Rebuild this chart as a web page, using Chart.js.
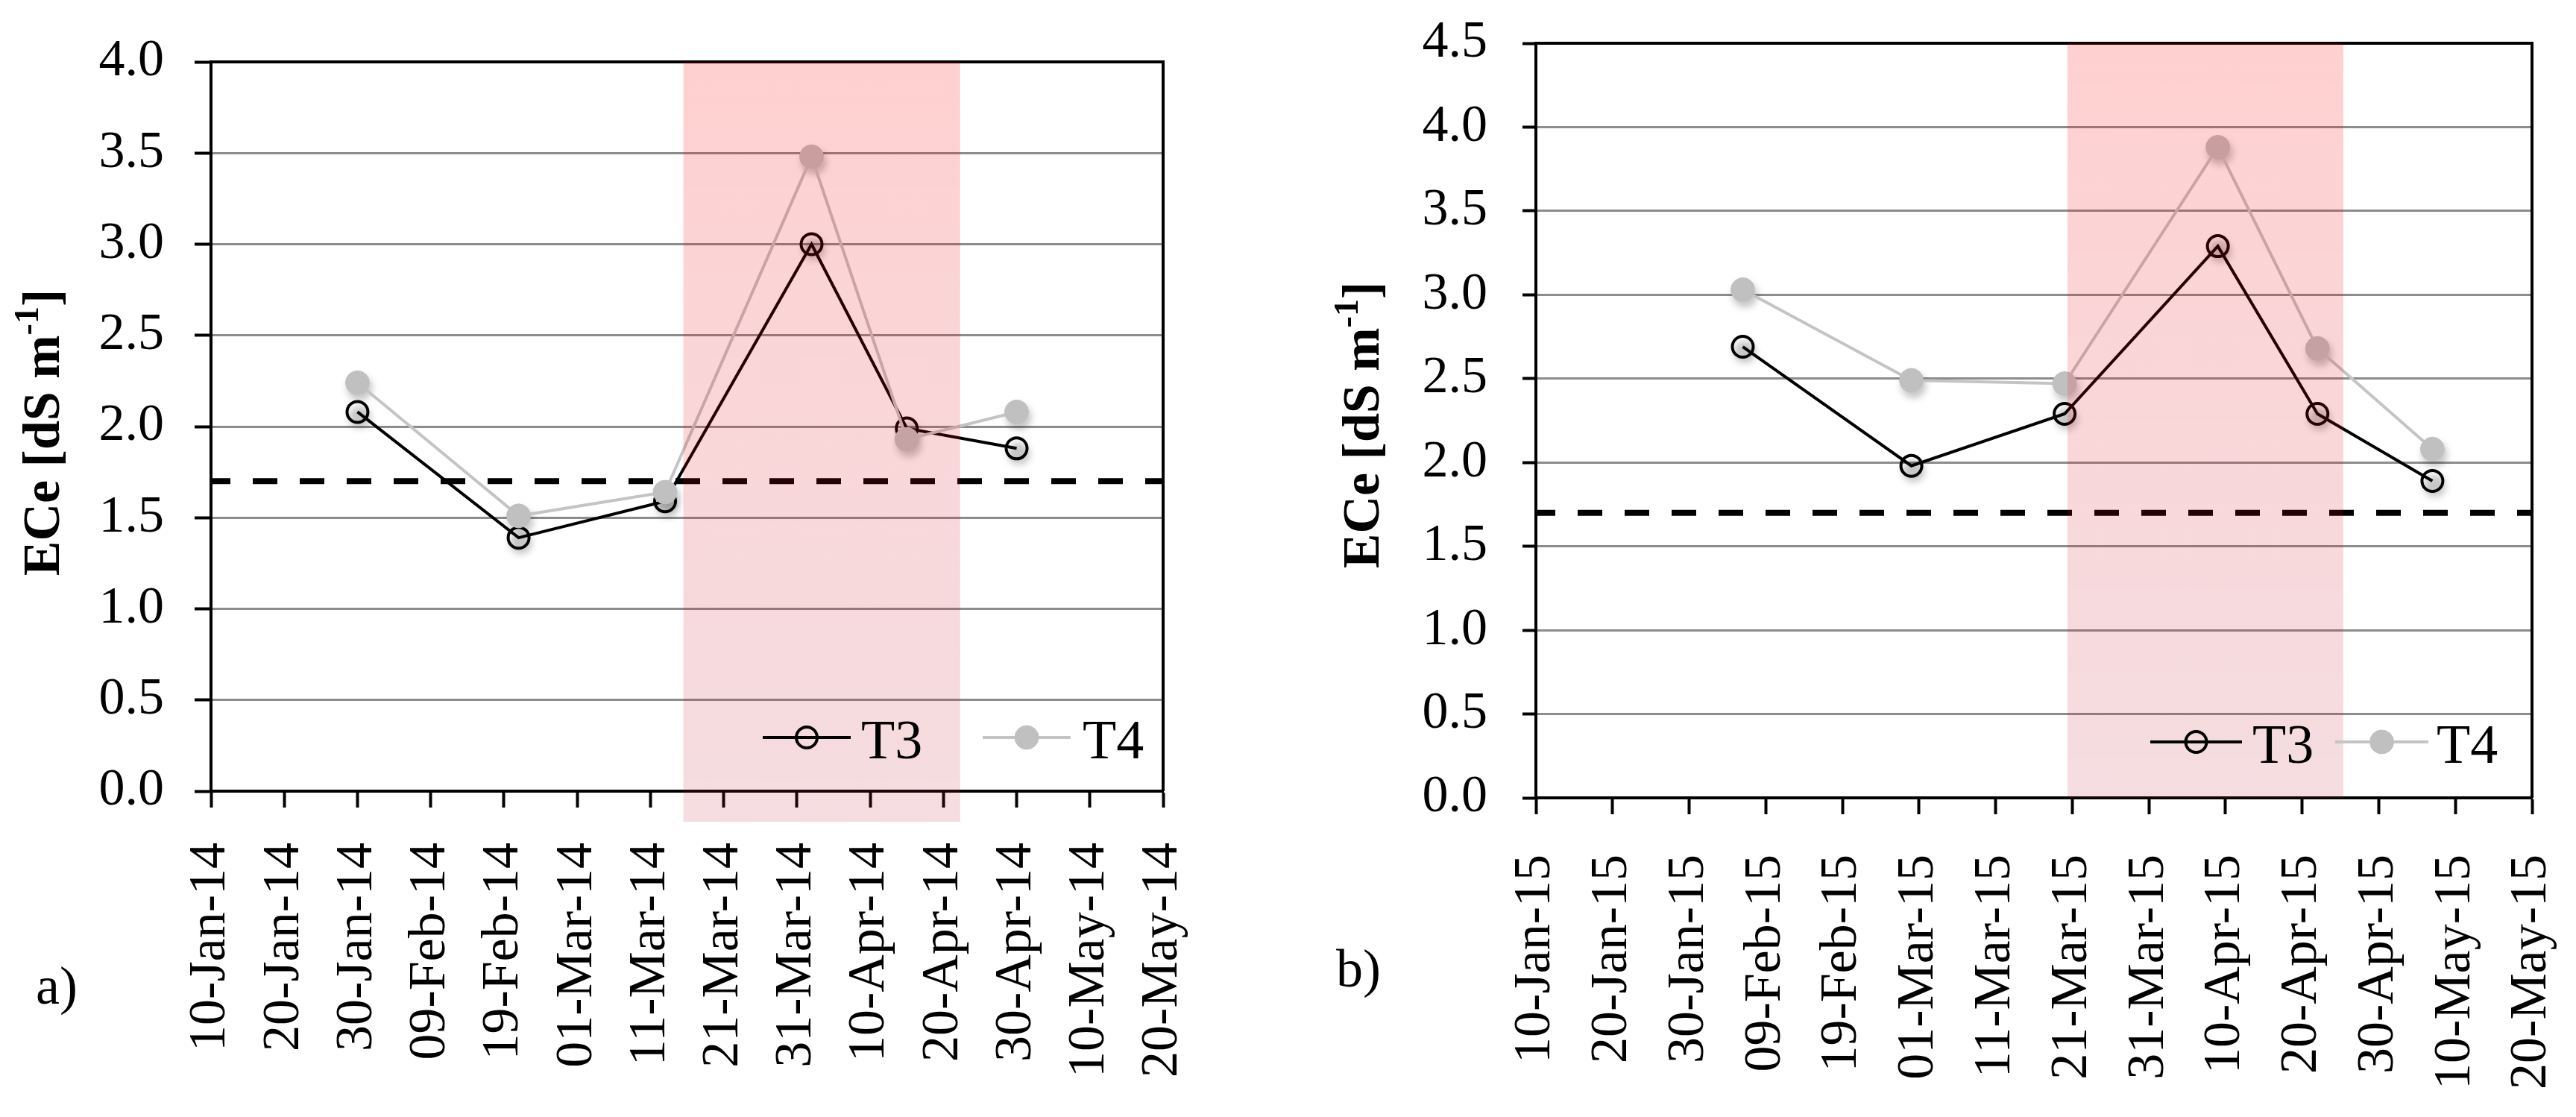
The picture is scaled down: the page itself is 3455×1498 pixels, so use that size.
<!DOCTYPE html>
<html>
<head>
<meta charset="utf-8">
<script src="https://cdn.jsdelivr.net/npm/chart.js@4.4.1/dist/chart.umd.min.js"></script>
<style>
  html, body { margin: 0; padding: 0; background: #fff; }
  #wrap { position: relative; width: 3455px; height: 1498px; overflow: hidden; }
  canvas { position: absolute; top: 0; }
  #chart-a { left: 0; }
  #chart-b { left: 1640px; }
  .tag { position: absolute; font-family: 'Liberation Serif'; font-size: 72px; line-height: 1; color: #000; }
</style>
</head>
<body>
<div id="wrap">
  <canvas id="chart-a" width="1720" height="1498"></canvas>
  <canvas id="chart-b" width="1815" height="1498"></canvas>
  <div class="tag" style="left:48px;top:1286px">a)</div>
  <div class="tag" style="left:1792px;top:1263px">b)</div>
</div>
<script>
// tick labels (every 10 days)
const ticksA = ['10-Jan-14', '20-Jan-14', '30-Jan-14', '09-Feb-14', '19-Feb-14', '01-Mar-14', '11-Mar-14',
                '21-Mar-14', '31-Mar-14', '10-Apr-14', '20-Apr-14', '30-Apr-14', '10-May-14', '20-May-14'];
const ticksB = ['10-Jan-15', '20-Jan-15', '30-Jan-15', '09-Feb-15', '19-Feb-15', '01-Mar-15', '11-Mar-15',
                '21-Mar-15', '31-Mar-15', '10-Apr-15', '20-Apr-15', '30-Apr-15', '10-May-15', '20-May-15'];
const startA = '2014-01-10';
const startB = '2015-01-10';

// sampling dates and ECe values
const datesA = ['2014-01-30', '2014-02-21', '2014-03-13', '2014-04-02', '2014-04-15', '2014-04-30'];
const t3A = [2.08, 1.39, 1.59, 3.00, 1.99, 1.88];
const t4A = [2.24, 1.51, 1.64, 3.48, 1.93, 2.08];

const datesB = ['2015-02-06', '2015-02-28', '2015-03-20', '2015-04-09', '2015-04-22', '2015-05-07'];
const t3B = [2.69, 1.98, 2.29, 3.29, 2.29, 1.89];
const t4B = [3.03, 2.49, 2.47, 3.88, 2.68, 2.08];

const threshold = 1.7;
const yMaxA = 4.0;
const yMaxB = 4.5;

// shaded period
const shadeA = ['2014-03-15T12:00', '2014-04-22T07:00'];
const shadeB = ['2015-03-20T09:00', '2015-04-25T09:00'];

const FONT = 'Liberation Serif';

function dayOf(s, start) {
    const t = s.includes('T') ? s : s + 'T00:00';
    return (Date.parse(t + 'Z') - Date.parse(start + 'T00:00Z')) / 864e5;
}

// labels sit outside the plot, so the scales should not ask for extra room
function noPadding(s) {
    s.paddingTop = 0;
    s.paddingBottom = 0;
    s.paddingLeft = 0;
    s.paddingRight = 0;
}

const framePlugin = {
    id: 'frame',
    beforeDatasetDraw(chart, args) {
        const ds = chart.data.datasets[args.index];
        if (!ds.shadow) return;
        const ctx = chart.ctx;
        ctx.save();
        ctx.filter = 'blur(5px)';
        ctx.fillStyle = 'rgba(0,0,0,0.22)';
        args.meta.data.forEach(p => {
            ctx.beginPath();
            ctx.arc(p.x + 3, p.y + 7, ds.pointRadius + 1, 0, Math.PI * 2);
            ctx.fill();
        });
        ctx.restore();
    },
    beforeDatasetsDraw(chart) {
        const { ctx, chartArea: a } = chart;
        ctx.save();
        ctx.strokeStyle = '#000';
        ctx.lineWidth = 4;
        ctx.beginPath();
        ctx.moveTo(a.left - 2, a.top);
        ctx.lineTo(a.right, a.top);
        ctx.lineTo(a.right, a.bottom);
        ctx.stroke();
        ctx.restore();
    },
    afterDatasetsDraw(chart, args, opts) {
        const { ctx, chartArea: a } = chart;
        const x = chart.scales.x;
        // shaded period, laid over everything
        const x0 = x.getPixelForValue(opts.shade[0]);
        const x1 = x.getPixelForValue(opts.shade[1]);
        const y1 = a.bottom + opts.shadeDrop;
        const g = ctx.createLinearGradient(0, a.top, 0, y1);
        g.addColorStop(0, 'rgba(255,0,0,0.185)');
        g.addColorStop(1, 'rgba(185,25,50,0.15)');
        ctx.save();
        ctx.fillStyle = g;
        ctx.fillRect(x0, a.top, x1 - x0, y1 - a.top);
        ctx.restore();

        // legend
        const L = opts.legend;
        const ly = a.bottom - L.dy;
        ctx.save();
        L.items.forEach((it, i) => {
            const ds = chart.data.datasets[i];
            const lx = a.right - it.off;
            ctx.strokeStyle = ds.borderColor;
            ctx.lineWidth = ds.borderWidth;
            ctx.beginPath();
            ctx.moveTo(lx, ly);
            ctx.lineTo(lx + it.len, ly);
            ctx.stroke();
            const cx = lx + it.len / 2;
            ctx.beginPath();
            ctx.arc(cx, ly, ds.pointRadius, 0, Math.PI * 2);
            if (ds.pointBackgroundColor !== 'transparent') {
                ctx.fillStyle = ds.pointBackgroundColor;
                ctx.fill();
            }
            ctx.lineWidth = ds.pointBorderWidth;
            ctx.strokeStyle = ds.pointBorderColor;
            ctx.stroke();
            ctx.fillStyle = '#000';
            ctx.font = '74px ' + FONT;
            ctx.textBaseline = 'alphabetic';
            ctx.textAlign = 'left';
            ctx.fillText(ds.label, lx + it.len + it.gap, ly + 28);
        });
        ctx.restore();
    },
    afterDraw(chart, args, opts) {
        // y axis title with superscript
        const { ctx, chartArea: a } = chart;
        const main = 'bold 70px ' + FONT;
        const sup = 'bold 46px ' + FONT;
        const parts = [['ECe [dS m', main, 0], ['-1', sup, -28], [']', main, 0]];
        ctx.save();
        let total = 0;
        parts.forEach(p => { ctx.font = p[1]; total += ctx.measureText(p[0]).width; });
        ctx.translate(opts.titleX, (a.top + a.bottom) / 2 + opts.titleDy);
        ctx.rotate(-Math.PI / 2);
        ctx.fillStyle = '#000';
        ctx.textBaseline = 'alphabetic';
        ctx.textAlign = 'left';
        let px = -total / 2;
        parts.forEach(p => {
            ctx.font = p[1];
            ctx.fillText(p[0], px, 23 + p[2]);
            px += ctx.measureText(p[0]).width;
        });
        ctx.restore();
    }
};

function makeChart(id, c) {
    const canvas = document.getElementById(id);
    const W = canvas.width, H = canvas.height;
    const xMax = (c.ticks.length - 1) * 10;
    const pts = vals => c.dates.map((d, i) => ({ x: dayOf(d, c.start), y: vals[i] }));

    return new Chart(canvas.getContext('2d'), {
        type: 'line',
        data: {
            datasets: [{
                label: 'T3',
                data: pts(c.t3),
                borderColor: '#000',
                borderWidth: 4,
                pointRadius: 14,
                pointBorderWidth: 4,
                pointBorderColor: '#000',
                pointBackgroundColor: 'transparent',
                shadow: true,
                order: 2
            }, {
                label: 'T4',
                data: pts(c.t4),
                borderColor: '#c4c4c4',
                borderWidth: 4,
                pointRadius: 16,
                pointBorderWidth: 1,
                pointBorderColor: '#c0c0c0',
                pointBackgroundColor: '#c0c0c0',
                shadow: true,
                order: 1
            }, {
                label: 'threshold',
                data: [{ x: 0, y: threshold }, { x: xMax, y: threshold }],
                borderColor: '#000',
                borderWidth: 8,
                borderDash: [33, 30],
                borderDashOffset: 7,
                pointRadius: 0,
                order: 0
            }]
        },
        options: {
            responsive: false,
            animation: false,
            layout: { padding: { left: 0, top: c.area.top, right: W - c.area.right, bottom: 0 } },
            plugins: {
                legend: { display: false },
                tooltip: { enabled: false },
                frame: {
                    shade: c.shade.map(s => dayOf(s, c.start)),
                    shadeDrop: c.shadeDrop,
                    legend: c.legend,
                    titleX: c.titleX,
                    titleDy: c.titleDy
                }
            },
            scales: {
                x: {
                    type: 'linear',
                    min: 0,
                    max: xMax,
                    afterFit: s => { s.height = H - c.area.bottom; noPadding(s); },
                    border: { display: true, color: '#000', width: 4 },
                    grid: { drawOnChartArea: false, drawTicks: true, tickLength: 22, tickColor: '#000', tickWidth: 4 },
                    ticks: {
                        stepSize: 10,
                        autoSkip: false,
                        minRotation: 90,
                        maxRotation: 90,
                        padding: c.xPad,
                        color: '#000',
                        font: { family: FONT, size: 70 },
                        callback: (v, i) => c.ticks[i]
                    }
                },
                y: {
                    min: 0,
                    max: c.yMax,
                    afterFit: s => { s.width = c.area.left; noPadding(s); },
                    border: { display: true, color: '#000', width: 4 },
                    grid: { color: '#8c8c8c', lineWidth: 3, drawTicks: true, tickLength: c.yTick, tickColor: '#000', tickWidth: 4 },
                    ticks: {
                        stepSize: 0.5,
                        padding: c.yPad,
                        color: '#000',
                        font: { family: FONT, size: 70 },
                        callback: v => v.toFixed(1)
                    }
                }
            }
        },
        plugins: [framePlugin]
    });
}

makeChart('chart-a', {
    ticks: ticksA, start: startA, dates: datesA, t3: t3A, t4: t4A, yMax: yMaxA, shade: shadeA,
    area: { left: 283, top: 83, right: 1560, bottom: 1061 },
    xPad: 47, yPad: 41, yTick: 22, shadeDrop: 41,
    legend: { dy: 72, items: [{ off: 537, len: 118, gap: 14 }, { off: 242, len: 118, gap: 16 }] },
    titleX: 56, titleDy: 8
});

// canvas b starts at page x 1640
makeChart('chart-b', {
    ticks: ticksB, start: startB, dates: datesB, t3: t3B, t4: t4B, yMax: yMaxB, shade: shadeB,
    area: { left: 420, top: 58, right: 1756, bottom: 1070 },
    xPad: 54, yPad: 47, yTick: 18, shadeDrop: 0,
    legend: { dy: 75, items: [{ off: 512, len: 123, gap: 14 }, { off: 264, len: 125, gap: 11 }] },
    titleX: 186, titleDy: 6
});
</script>
</body>
</html>
